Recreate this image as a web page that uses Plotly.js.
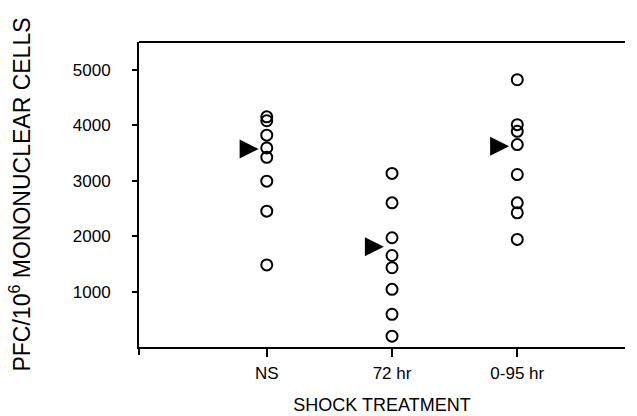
<!DOCTYPE html>
<html>
<head>
<meta charset="utf-8">
<script src="https://cdn.plot.ly/plotly-3.0.1.min.js"></script>
<style>html,body{margin:0;padding:0;background:#fff;}#chart{width:637px;height:416px;}</style>
</head>
<body>
<div id="chart"></div>
<script>
const categories = ["NS", "72 hr", "0-95 hr"];
const nsValues = [4150, 4080, 3820, 3590, 3420, 2990, 2450, 1480];
const hr72Values = [3130, 2600, 1970, 1650, 1430, 1040, 590, 195];
const hr095Values = [4820, 4010, 3890, 3650, 3110, 2600, 2420, 1940];
const arrowValues = [3570, 1810, 3620];
const yTickVals = [1000, 2000, 3000, 4000, 5000];
const yTickText = ["1000", "2000", "3000", "4000", "5000"];

const groups = [nsValues, hr72Values, hr095Values];
const arrowOffset = 0.065;

const circleX = [], circleY = [];
groups.forEach((vals, i) => {
  vals.forEach(v => { circleX.push(i + 1); circleY.push(v); });
});

const circles = {
  type: "scatter", mode: "markers",
  x: circleX, y: circleY,
  marker: {symbol: "circle-open", size: 11, color: "#000", line: {width: 2, color: "#000"}},
  hoverinfo: "skip", showlegend: false
};
const arrows = {
  type: "scatter", mode: "markers",
  x: categories.map((c, i) => i + 1 - arrowOffset), y: arrowValues,
  marker: {symbol: "arrow-right", size: 19, color: "#000", line: {width: 0}},
  hoverinfo: "skip", showlegend: false
};

const font = "'Liberation Sans', Arial, Helvetica, sans-serif";
const layout = {
  width: 637, height: 416,
  margin: {l: 139, r: 12, t: 42, b: 69, pad: 0},
  paper_bgcolor: "#fff", plot_bgcolor: "#fff",
  font: {family: font, color: "#000", size: 16},
  showlegend: false,
  xaxis: {
    range: [-0.02, 3.86], showgrid: false, zeroline: false,
    showline: true, linecolor: "#000", linewidth: 2,
    ticks: "outside", ticklen: 8, tickwidth: 2, tickcolor: "#000",
    tickvals: [1, 2, 3], ticktext: categories,
    tickfont: {size: 17}, ticklabelstandoff: 2,
    title: {text: "SHOCK TREATMENT", font: {size: 18}, standoff: 16}
  },
  yaxis: {
    range: [0, 5500], showgrid: false, zeroline: false,
    showline: true, linecolor: "#000", linewidth: 2,
    ticks: "outside", ticklen: 5, tickwidth: 2, tickcolor: "#000",
    tickvals: yTickVals, ticktext: yTickText,
    tickfont: {size: 17}, ticklabelstandoff: 18,
    title: {text: "PFC/10<sup>6</sup> MONONUCLEAR CELLS", font: {size: 23}, standoff: 36}
  },
  shapes: [
    {type: "line", xref: "paper", yref: "paper", x0: 0, x1: 1, y0: 1, y1: 1, line: {color: "#000", width: 2}},
    {type: "line", xref: "paper", yref: "paper", x0: 0, x1: 0, y0: 0, y1: -0.026, line: {color: "#000", width: 2}}
  ]
};

Plotly.newPlot("chart", [circles, arrows], layout, {displayModeBar: false, staticPlot: true});
</script>
</body>
</html>
